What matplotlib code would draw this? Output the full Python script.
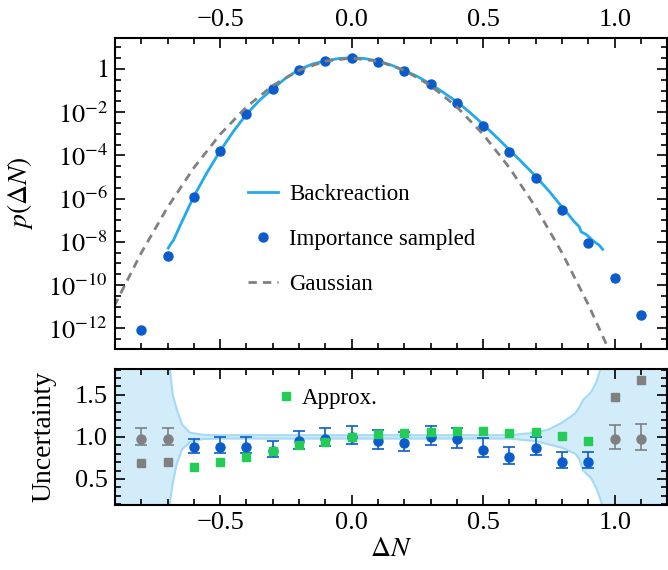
import numpy as np
import matplotlib
matplotlib.use("Agg")
import matplotlib.pyplot as plt
from matplotlib.ticker import LogLocator, FuncFormatter, MultipleLocator, NullFormatter

plt.rcParams['font.family'] = ['Liberation Serif', 'DejaVu Serif']
plt.rcParams['mathtext.fontset'] = 'stix'
plt.rcParams['font.size'] = 19

# ---- top panel data (log10 of p) ----
imp_x = [-0.8, -0.7, -0.6, -0.5, -0.4, -0.3, -0.2, -0.1, 0.0, 0.1,
         0.2, 0.3, 0.4, 0.5, 0.6, 0.7, 0.8, 0.9, 1.0, 1.1]
imp_log10 = [-12.1, -8.68, -5.93, -3.79, -2.09, -0.93, -0.03, 0.37, 0.51, 0.33,
             -0.09, -0.72, -1.56, -2.63, -3.83, -5.06, -6.54, -8.05, -9.67, -11.39]

back_x = [-0.697, -0.685, -0.678, -0.65, -0.6, -0.55, -0.5, -0.45, -0.4, -0.35,
          -0.3, -0.25, -0.2, -0.15, -0.1, -0.05, 0.0, 0.05, 0.1, 0.15,
          0.2, 0.25, 0.3, 0.35, 0.4, 0.45, 0.5, 0.55, 0.6, 0.65,
          0.7, 0.75, 0.8, 0.815, 0.846, 0.865, 0.872, 0.891, 0.922, 0.941, 0.954]
back_log10 = [-8.29, -8.05, -7.95, -7.2, -5.9, -4.8, -3.8, -2.9, -2.1, -1.45,
              -0.92, -0.42, -0.03, 0.22, 0.38, 0.48, 0.52, 0.48, 0.37, 0.18,
              -0.07, -0.35, -0.7, -1.1, -1.52, -2.02, -2.57, -3.15, -3.75, -4.35,
              -4.98, -5.65, -6.4, -6.6, -7.07, -7.3, -7.54, -7.66, -8.0, -8.16, -8.35]

gauss_x = [-0.95, -0.9, -0.8, -0.7, -0.6, -0.5, -0.4, -0.3, -0.2, -0.1, 0.0,
           0.1, 0.2, 0.3, 0.4, 0.5, 0.6, 0.7, 0.8, 0.9, 1.0]
gauss_log10 = [-12.2, -10.92, -8.52, -6.41, -4.58, -3.03, -1.76, -0.77, -0.06, 0.36, 0.5,
               0.36, -0.06, -0.77, -1.76, -3.03, -4.58, -6.41, -8.52, -10.92, -13.6]

# ---- bottom panel data ----
mid_x = [-0.6, -0.5, -0.4, -0.3, -0.2, -0.1, 0.0, 0.1,
         0.2, 0.3, 0.4, 0.5, 0.6, 0.7, 0.8, 0.9]
imp_ratio = [0.875, 0.885, 0.885, 0.835, 0.955, 0.97, 0.995, 0.95,
             0.93, 1.0, 0.97, 0.85, 0.765, 0.87, 0.70, 0.70]
imp_top = [0.98, 0.995, 0.995, 0.95, 1.07, 1.10, 1.13, 1.08,
           1.06, 1.13, 1.10, 0.985, 0.88, 1.0, 0.815, 0.815]
imp_bot = [0.81, 0.81, 0.81, 0.76, 0.86, 0.89, 0.91, 0.86,
           0.835, 0.90, 0.87, 0.76, 0.68, 0.78, 0.625, 0.625]
approx_ratio = [0.645, 0.70, 0.76, 0.835, 0.90, 0.94, 0.995, 1.035,
                1.05, 1.06, 1.075, 1.075, 1.05, 1.06, 1.015, 0.95]

out_x = [-0.8, -0.7, 1.0, 1.1]
out_ratio = [0.98, 0.98, 0.98, 0.98]
out_top = [1.10, 1.10, 1.14, 1.15]
out_bot = [0.90, 0.90, 0.86, 0.84]
out_sq = [0.69, 0.70, 1.48, 1.675]

band_x = [-0.95, -0.70, -0.69, -0.68, -0.665, -0.645, -0.615, -0.565, -0.5, 0.0,
          0.6, 0.70, 0.75, 0.80, 0.85, 0.865, 0.88, 0.91, 0.93, 0.95, 0.97, 1.25]
band_hi = [3.0, 2.5, 1.78, 1.50, 1.33, 1.15, 1.05, 1.025, 1.02, 1.02,
           1.02, 1.05, 1.09, 1.17, 1.28, 1.35, 1.44, 1.53, 1.65, 1.85, 3.0, 3.0]
band_lo = [-1.0, -0.5, 0.25, 0.45, 0.68, 0.85, 0.94, 0.975, 0.98, 0.98,
           0.98, 0.95, 0.91, 0.87, 0.80, 0.74, 0.60, 0.51, 0.39, 0.22, -1.0, -1.0]

c_line = '#22aaee'
c_imp = '#0a5ccc'
c_gray = '#808080'
c_green = '#22cc55'

fig = plt.figure(figsize=(6.68, 5.70), dpi=100)
ax1 = fig.add_axes([0.172, 0.388, 0.827, 0.546])
ax2 = fig.add_axes([0.172, 0.114, 0.827, 0.239])

ax1.plot(back_x, 10.0 ** np.array(back_log10), color=c_line, lw=2, label='Backreaction')
ax1.plot(imp_x, 10.0 ** np.array(imp_log10), 'o', color=c_imp, ms=6.5, label='Importance sampled')
ax1.plot(gauss_x, 10.0 ** np.array(gauss_log10), '--', color=c_gray, lw=2, dashes=(3, 2.2),
         label='Gaussian')
ax1.set_yscale('log')
ax1.set_xlim(-0.9, 1.2)
ax1.set_ylim(10 ** -12.96, 10 ** 1.45)
ax1.yaxis.set_major_locator(LogLocator(base=100, numticks=20))
ax1.yaxis.set_minor_locator(LogLocator(base=10, subs=(1.0, 10 ** 0.5), numticks=40))
ax1.yaxis.set_minor_formatter(NullFormatter())


def logfmt(v, pos):
    e = int(round(np.log10(v)))
    if e == 0:
        return '$1$'
    return r'$10^{%d}$' % e


ax1.yaxis.set_major_formatter(FuncFormatter(logfmt))
ax1.set_ylabel(r'$p(\Delta N)$', fontsize=20, labelpad=10)
ax1.legend(loc='center left', bbox_to_anchor=(0.241, 0.352), frameon=False,
           borderpad=0, borderaxespad=0, handlelength=1.3, handletextpad=0.5,
           labelspacing=1.05, fontsize=16.5)

ax2.fill_between(band_x, band_lo, band_hi, color='#d2ecfa', lw=0, zorder=0)
ax2.plot(band_x, band_hi, color='#a4daf5', lw=1.5, zorder=1)
ax2.plot(band_x, band_lo, color='#a4daf5', lw=1.5, zorder=1)

imp_r = np.array(imp_ratio)
ax2.errorbar(mid_x, imp_ratio, yerr=[imp_r - np.array(imp_bot), np.array(imp_top) - imp_r],
             fmt='o', color=c_imp, ms=6.5, capsize=4.5, elinewidth=1.2, capthick=1.2, zorder=3)
out_r = np.array(out_ratio)
ax2.errorbar(out_x, out_ratio, yerr=[out_r - np.array(out_bot), np.array(out_top) - out_r],
             fmt='o', color=c_gray, ms=6.5, capsize=4.5, elinewidth=1.2, capthick=1.2, zorder=3)
ax2.plot(out_x, out_sq, 's', color=c_gray, ms=5.5, zorder=3)
ax2.plot(mid_x, approx_ratio, 's', color=c_green, ms=5.5, zorder=4, label='Approx.')
ax2.set_xlim(-0.9, 1.2)
ax2.set_ylim(0.19, 1.81)
ax2.yaxis.set_major_locator(MultipleLocator(0.5))
ax2.yaxis.set_minor_locator(MultipleLocator(0.1))
ax2.set_ylabel('Uncertainty', fontsize=20, labelpad=13)
ax2.set_xlabel(r'$\Delta N$', fontsize=20, labelpad=2)
ax2.legend(loc='upper left', bbox_to_anchor=(0.296, 0.86), frameon=False,
           borderpad=0, borderaxespad=0, handlelength=0.7, handletextpad=0.3, fontsize=16.5)

for ax in (ax1, ax2):
    ax.xaxis.set_major_locator(MultipleLocator(0.5))
    ax.xaxis.set_minor_locator(MultipleLocator(0.1))
    ax.tick_params(which='both', direction='in', top=True, right=True, width=1.2,
                   labelsize=19)
    ax.tick_params(which='major', length=7, pad=5)
    ax.tick_params(which='minor', length=4)
    for s in ax.spines.values():
        s.set_linewidth(1.5)

ax1.tick_params(axis='x', which='both', labelbottom=False, labeltop=True)

fig.savefig('out.png', dpi=100)
